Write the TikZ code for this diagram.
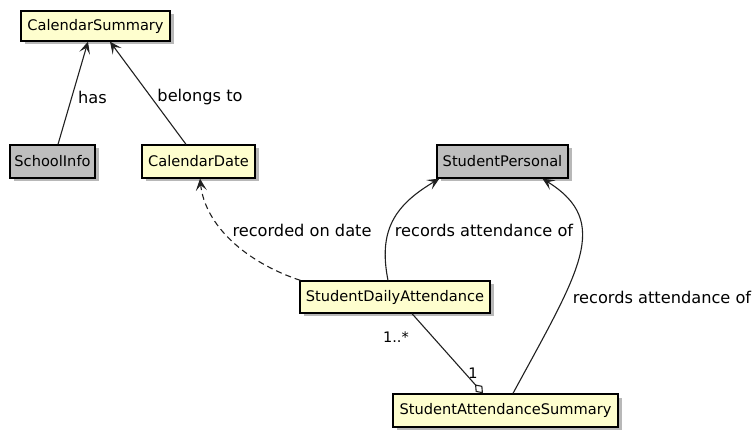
\documentclass[tikz,border=0pt]{standalone}
\usepackage{fontspec}
\setmainfont{DejaVu Sans}
\usetikzlibrary{shadows,arrows.meta,calc}
\definecolor{clsyellow}{HTML}{FEFECE}
\definecolor{clsgray}{HTML}{BEBEBE}
\definecolor{edgecol}{HTML}{202020}
\begin{document}
\begin{tikzpicture}[x=1pt,y=-1pt,
  cls/.style={draw=black, line width=1.3pt, inner sep=0pt, font=\fontsize{14.6}{17}\selectfont,
    drop shadow={shadow xshift=3.5pt, shadow yshift=-3.5pt, fill=black, opacity=0.28}},
  ycls/.style={cls, fill=clsyellow},
  gcls/.style={cls, fill=clsgray},
  edge/.style={draw=edgecol, line width=1.1pt, -{Stealth[length=12pt,width=11pt,inset=5.5pt]}},
  lbl/.style={font=\fontsize{16.2}{18}\selectfont, inner sep=0pt},
  mult/.style={font=\fontsize{14.5}{16}\selectfont, inner sep=0pt}]
\useasboundingbox (0,0) rectangle (755,430);
% classes
\node[ycls, minimum width=149pt, minimum height=30pt] (cs) at (95.5,26) {CalendarSummary};
\node[gcls, minimum width=85pt, minimum height=33pt] (si) at (52.5,161.5) {SchoolInfo};
\node[ycls, minimum width=113pt, minimum height=33pt] (cd) at (198.5,161.5) {CalendarDate};
\node[gcls, minimum width=131pt, minimum height=33pt] (sp) at (502.5,161.5) {StudentPersonal};
\node[ycls, minimum width=190pt, minimum height=32pt] (sda) at (395,297) {StudentDailyAttendance};
\node[ycls, minimum width=225pt, minimum height=33pt] (sas) at (505.5,410.5) {StudentAttendanceSummary};
% edges
\draw[edge] ([xshift=5.5pt]si.north) -- ([xshift=-7.5pt]cs.south);
\node[lbl, anchor=west] (lhas) at (78,97) {has};
\draw[edge] ([xshift=-12.5pt]cd.north) -- ([xshift=14.5pt]cs.south);
\node[lbl] (lbel) at (200,97) {belongs to};
\draw[edge, dash pattern=on 6pt off 4pt] ([xshift=1pt]sda.north west) .. controls (245,262) and (205,225) .. ([xshift=1.5pt]cd.south);
\node[lbl] (lrec) at (302,230) {recorded on date};
\draw[edge] ([xshift=-7pt]sda.north) .. controls (378,230) and (395,205) .. ([xshift=3pt]sp.south west);
\node[lbl] (lra1) at (484,230) {records attendance of};
\draw[edge] ([xshift=7.5pt]sas.north) .. controls (580,270) and (612,222) .. ([xshift=40pt]sp.south);
\node[lbl] (lra2) at (662,297) {records attendance of};
\draw[draw=edgecol, line width=1.1pt, {Diamond[open,length=12pt,width=9pt,line width=1.1pt]}-] ([xshift=-22.5pt]sas.north) -- ([xshift=17pt]sda.south);
\node[mult] (m1) at (396,337) {1..*};
\node[mult] (m2) at (473,373) {1};
\end{tikzpicture}
\end{document}
